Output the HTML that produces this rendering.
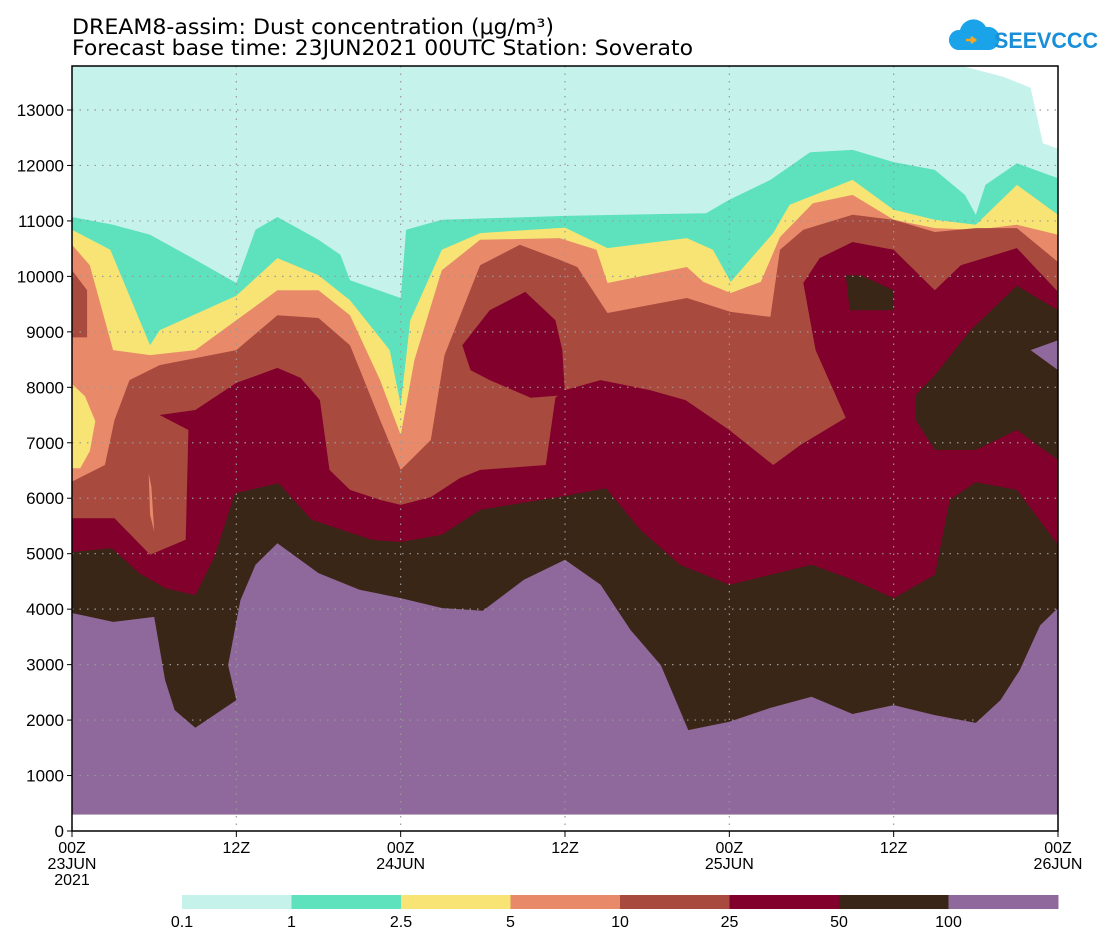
<!DOCTYPE html>
<html><head><meta charset="utf-8"><style>
body{margin:0;background:#fff;}
svg text{font-family:"Liberation Sans",sans-serif;}
</style></head><body>
<svg id="c" width="1112" height="943" viewBox="0 0 1112 943" xmlns="http://www.w3.org/2000/svg">
<text x="72" y="34" font-size="21" style="font-family:'DejaVu Sans',sans-serif" textLength="482" lengthAdjust="spacingAndGlyphs">DREAM8-assim: Dust concentration (μg/m³)</text>
<text x="72" y="55" font-size="21" style="font-family:'DejaVu Sans',sans-serif" textLength="621" lengthAdjust="spacingAndGlyphs">Forecast base time: 23JUN2021 00UTC  Station: Soverato</text>
<g>
<path d="M958 50 a10 10 0 0 1 2 -20 a14 14 0 0 1 26 -3 a10 10 0 0 1 4 23 z" fill="#1aa3e8"/>
<path d="M966 40 l8 0 m-3 -3 l4 3 l-4 3" stroke="#f5a623" stroke-width="2.5" fill="none"/>
<text x="994" y="48" font-size="22" font-weight="bold" fill="#1a8fd8" textLength="104" lengthAdjust="spacingAndGlyphs">SEEVCCC</text>
</g>
<g id="layers"></g>
<g id="grid"></g>
<rect x="72" y="66" width="986" height="765" fill="none" stroke="#000" stroke-width="1.5"/>
<g id="axes"></g>
<g id="cbar"></g>
</svg>
<script>
const levels=["0.1","1","2.5","5","10","25","50","100"];
const colors=["#c6f2ec","#5de2bd","#f7e474","#e88a6a","#a94a3f","#82002c","#3a2616","#8f689c"];
const L01=[[0,13800],[65,13800],[68,13600],[70,13400],[70.9,12400],[72,12300]];
const L1=[[0,11070],[3,10930],[5.7,10750],[9,10300],[12,9880],[13.4,10840],[15,11070],[18,10660],[19.6,10390],[20.3,9930],[24,9610],[24.4,10840],[27,11020],[36,11090],[46.3,11140],[48,11380],[51,11740],[53.9,12240],[57,12280],[60,12060],[63,11920],[65.2,11470],[66,11110],[66.7,11650],[69,12040],[72,11770]];
const L25=[[0,10840],[2.8,10480],[5.7,8760],[6.4,9030],[12,9650],[15,10330],[18,10020],[20.3,9570],[23.2,8670],[24,7680],[24.7,9210],[27,10480],[29.8,10780],[36,10880],[39.1,10510],[44.9,10690],[46.8,10480],[48.1,9900],[49.5,10300],[51.2,10780],[52.4,11290],[57,11740],[60,11200],[63,11020],[66,10930],[69,11650],[72,11110]];
const L5=[[0,10570],[1.3,10200],[3,8670],[5.7,8580],[9,8670],[12,9210],[15,9750],[18,9750],[20.3,9300],[22.5,8130],[24,7140],[25,8490],[27,10110],[29.8,10660],[35.6,10690],[38.3,10480],[39.1,9880],[44.9,10170],[46.1,9900],[48.1,9700],[50.3,9900],[51.7,10710],[54.1,11320],[57,11470],[60,11020],[63,10870],[66,10840],[69,10930],[72,10750]];
const L10=[[0,6300],[2.4,6600],[3.1,7410],[4.2,8130],[6.4,8400],[12,8670],[15,9300],[18,9250],[20.3,8760],[22.5,7410],[24,6510],[26.2,7050],[27.2,8580],[29.8,10200],[32.7,10570],[35.6,10300],[36.9,10170],[39.1,9340],[44.9,9610],[48.1,9360],[51,9270],[51.7,10480],[53.4,10840],[57,11110],[60,11020],[63,10800],[66,10870],[69,10870],[72,10260]];
const L25b=[[0,5640],[3.1,5640],[5.7,4980],[8.3,5250],[8.5,7230],[6.4,7500],[9,7590],[12,8080],[15,8350],[16.7,8170],[18.1,7770],[18.8,6510],[20.3,6150],[22.5,5970],[24,5880],[26.2,6020],[28.3,6360],[29.8,6510],[34.6,6600],[35.3,7810],[36,7950],[38.6,8130],[42.2,7950],[44.8,7770],[48,7230],[51.2,6600],[53.2,6960],[56.5,7450],[54.3,8670],[53.4,9880],[54.6,10330],[57,10620],[60,10480],[63,9750],[64.9,10200],[69,10510],[72,9720]];
const L50=[[0,5030],[2.9,5100],[4.9,4650],[6.8,4380],[9,4250],[10.4,4940],[11.9,6090],[15.1,6270],[17.5,5610],[21.9,5250],[24,5210],[27,5340],[29.8,5790],[32.7,5910],[36,6040],[39,6180],[41.5,5430],[44.4,4800],[48,4440],[51,4620],[54,4800],[57,4530],[60,4200],[63,4620],[64.1,5970],[66,6290],[69,6150],[72,5160]];
const L100=[[0,3930],[3,3770],[6,3860],[6.8,2720],[7.5,2180],[9,1860],[12,2360],[11.4,2990],[12.3,4160],[13.4,4800],[15,5190],[18,4650],[21,4350],[24,4200],[27,4020],[30,3970],[33,4530],[36,4890],[38.6,4440],[40.8,3620],[43,2990],[45,1820],[48,1970],[51,2220],[54,2420],[57,2110],[60,2270],[63,2090],[66,1950],[67.8,2360],[69.2,2900],[70.7,3710],[72,4020]];
const stacked=[L01,L1,L25,L5,L10,L25b,L50,L100];
const patchLevel=[4,2,5,6,6,7,3];
const patchPts=[
 [[0,10110],[1.1,9750],[1.1,8900],[0,8900]],
 [[0,8060],[0.95,7840],[1.7,7390],[1.3,6850],[0.6,6540],[0,6540]],
 [[28.5,8760],[30.5,9390],[33.1,9720],[35.3,9210],[35.8,8670],[36,7860],[33.5,7810],[30.5,8130],[29.1,8310]],
 [[61.6,7860],[63,8220],[65.6,9030],[69,9830],[72,9390],[72,6690],[69,7230],[66,6870],[63,6870],[61.6,7410]],
 [[56.5,10020],[57.6,10020],[60,9750],[60,9390],[56.8,9390]],
 [[70,8670],[72,8850],[72,8310]],
 [[5.6,6450],[5.8,6200],[6.0,5400],[5.7,5700]]
];
const baseM=300;
const yTicks=[0,1000,2000,3000,4000,5000,6000,7000,8000,9000,10000,11000,12000,13000];
const xTickHours=[0,12,24,36,48,60,72];
const xTickL1=["00Z","12Z","00Z","12Z","00Z","12Z","00Z"];
const xTickL2=["23JUN","","24JUN","","25JUN","","26JUN"];
const xTickL3=["2021","","","","","",""];
const cbarLabels=["0.1","1","2.5","5","10","25","50","100"];

const X0=72,X1=1058,Y0=831,YT=66;
const sx=h=>X0+h*(X1-X0)/72;
const sy=m=>Y0-m*(Y0-110)/13000;
const NS="http://www.w3.org/2000/svg";
function mk(tag,parent,attrs){const e=document.createElementNS(NS,tag);for(const k in attrs)e.setAttribute(k,attrs[k]);parent.appendChild(e);return e;}
const layers=document.getElementById('layers');
stacked.forEach((pts,i)=>{
  let d=`M${sx(0)},${sy(baseM)} `+pts.map(p=>`L${sx(p[0]).toFixed(1)},${Math.max(YT,sy(p[1])).toFixed(1)}`).join(' ')+` L${sx(72)},${sy(baseM)} Z`;
  const e=mk('path',layers,{d:d,fill:colors[i]});
  
  
});
patchPts.forEach((pts,i)=>{
  const e=mk('polygon',layers,{points:pts.map(p=>sx(p[0]).toFixed(1)+','+sy(p[1]).toFixed(1)).join(' '),fill:colors[patchLevel[i]]});
  
  
});
const grid=document.getElementById('grid'),axes=document.getElementById('axes');
yTicks.forEach(v=>{
  const y=sy(v);
  if(v>0){const g=mk('line',grid,{x1:X0,x2:X1,y1:y,y2:y,stroke:'#999','stroke-dasharray':'1.5,6','stroke-width':1.2});
  
  }
  const t=mk('line',axes,{x1:X0-5,x2:X0,y1:y,y2:y,stroke:'#000'});
  
  
  const l=mk('text',axes,{x:X0-8,y:y+6,'font-size':17,'text-anchor':'end'});l.textContent=v;
  
  
});
xTickHours.forEach((h,i)=>{
  const x=sx(h);
  if(h>0&&h<72){const g=mk('line',grid,{x1:x,x2:x,y1:YT,y2:Y0,stroke:'#999','stroke-dasharray':'1.5,6','stroke-width':1.2});
  
  }
  const t=mk('line',axes,{x1:x,x2:x,y1:Y0,y2:Y0+6,stroke:'#000'});
  
  
  [xTickL1[i],xTickL2[i],xTickL3[i]].forEach((s,j)=>{ if(!s)return;
    const l=mk('text',axes,{x:x,y:853+j*16,'font-size':16,'text-anchor':'middle'});l.textContent=s;
    
    });
});
const cb=document.getElementById('cbar');
const cw=(1058-182)/8;
for(let i=0;i<8;i++){
  const r=mk('rect',cb,{x:182+i*cw,y:895,width:cw+0.5,height:14,fill:colors[i]});
  
  
}
cbarLabels.forEach((s,i)=>{
  const l=mk('text',cb,{x:182+i*cw,y:927,'font-size':16,'text-anchor':'middle'});l.textContent=s;
  
  
});
</script>
</body></html>
